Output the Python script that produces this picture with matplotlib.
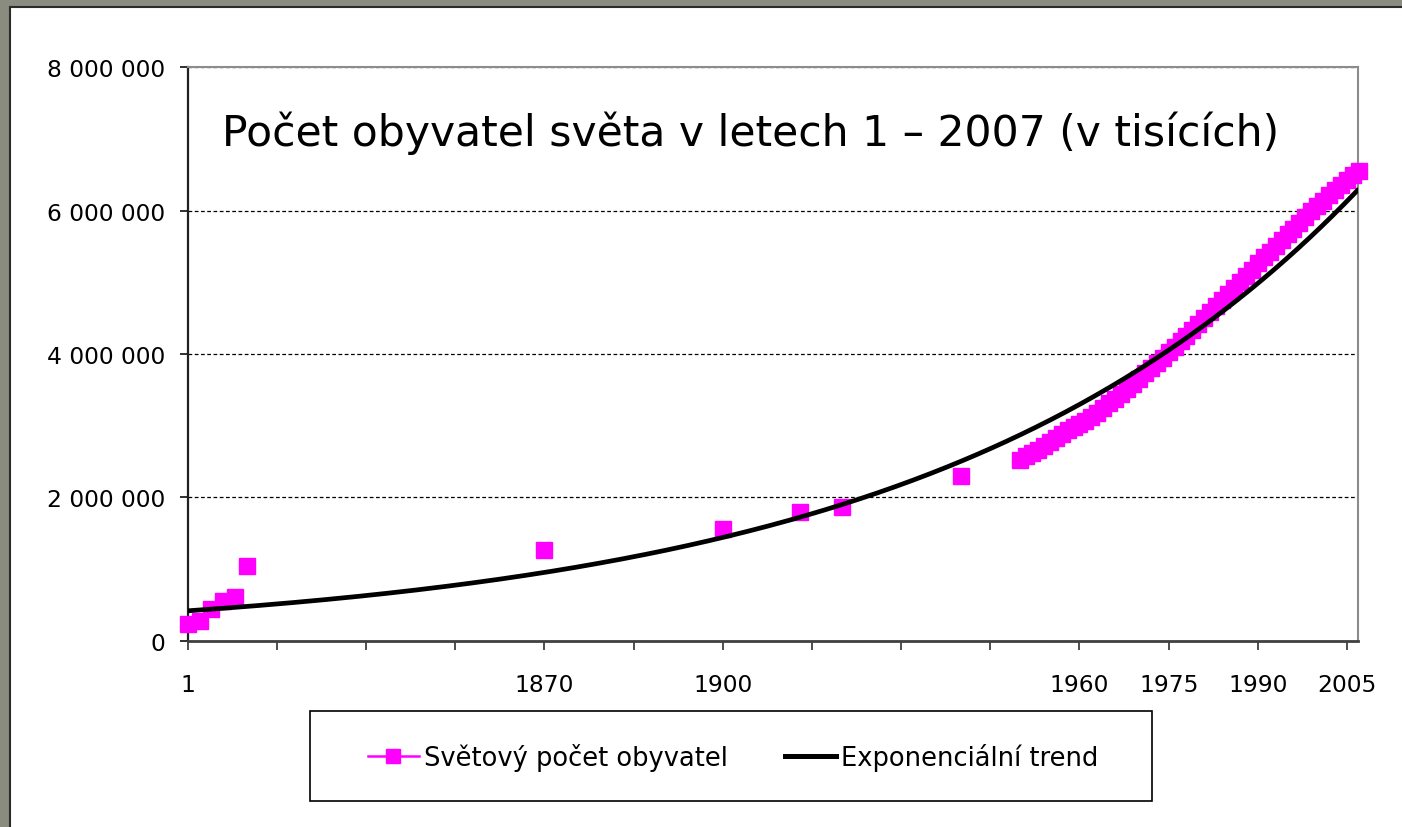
import numpy as np
import matplotlib
matplotlib.use("Agg")
import matplotlib.pyplot as plt
from matplotlib.patches import Rectangle
from matplotlib.lines import Line2D

# --- Data (population in thousands) ---
# category slot on the x axis (the chart is a category axis, one slot per year from 1810 on)
early_years = [1, 1000, 1500, 1600, 1700, 1820, 1870, 1900, 1913, 1920, 1940]
early_slots = [0, 2, 4, 6, 8, 10, 60, 90, 103, 110, 130]
early_pop = [230820, 268273, 437818, 555828, 603410, 1041092,
             1270014, 1563000, 1791020, 1860000, 2298000]

annual_years = list(range(1950, 2008))
annual_pop = [2525000, 2572000, 2619000, 2666000, 2716000, 2769000, 2822000, 2879000,
              2935000, 2984000, 3026000, 3066000, 3115000, 3178000, 3243000, 3310000,
              3377000, 3443000, 3512000, 3584000, 3657000, 3733000, 3807000, 3879000,
              3951000, 4022000, 4100000, 4178000, 4258000, 4338000, 4420000, 4500000,
              4583000, 4665000, 4748000, 4832000, 4917000, 5003000, 5090000, 5178000,
              5265000, 5347000, 5428000, 5509000, 5590000, 5670000, 5750000, 5830000,
              5910000, 5990000, 6065000, 6140000, 6213000, 6285000, 6357000, 6430000,
              6497000, 6560000]
annual_slots = [y - 1810 for y in annual_years]

tick_slots = list(range(0, 196, 15))
tick_labels = {0: "1", 60: "1870", 90: "1900", 150: "1960", 165: "1975", 180: "1990", 195: "2005"}
y_ticks = [0, 2000000, 4000000, 6000000, 8000000]

title = "Počet obyvatel světa v letech 1 – 2007 (v tisících)"
series_name = "Světový počet obyvatel"
trend_name = "Exponenciální trend"

x = np.array(early_slots + annual_slots, dtype=float)
y = np.array(early_pop + annual_pop, dtype=float)

# exponential trend like Excel: fit ln(y) = ln(a) + b*x
b, ln_a = np.polyfit(x, np.log(y), 1)
print("trend a=%.0f b=%.5f" % (np.exp(ln_a), b))
tx = np.linspace(0, 197, 400)
ty = np.exp(ln_a) * np.exp(b * tx)

# --- Figure ---
W, H = 1402, 828
fig = plt.figure(figsize=(W / 100, H / 100), dpi=100, facecolor="#898c7e")
# white slide panel, running off the right and bottom edges
fig.patches.append(Rectangle((10 / W, -0.05), (W + 40) / W, (H - 8) / H + 0.05,
                             transform=fig.transFigure, facecolor="white",
                             edgecolor="#2b2b2b", lw=1.5, zorder=-5))

ax = fig.add_axes([187.7 / W, (H - 641.6) / H, (1358.3 - 187.7) / W, (641.6 - 68.4) / H])
ax.set_zorder(2)
ax.set_facecolor("white")

ax.plot(tx, ty, color="black", lw=3.4, zorder=4, solid_capstyle="butt")
ax.plot(x, y, linestyle="none", marker="s", markersize=11, color="#ff00ff",
        markeredgecolor="#ff00ff", clip_on=False, zorder=3)

ax.set_xlim(0, 196.9)
ax.set_ylim(0, 8000000)

ax.set_yticks(y_ticks)
ax.set_yticklabels(["{:,}".format(v).replace(",", " ") for v in y_ticks])
ax.set_xticks(tick_slots)
ax.set_xticklabels([tick_labels.get(t, "") for t in tick_slots])

ax.yaxis.grid(True, linestyle=(0, (3, 2)), color="black", lw=0.9)
ax.set_axisbelow(True)

for side in ["top", "right"]:
    ax.spines[side].set_color("#8c8c8c")
    ax.spines[side].set_linewidth(1.5)
ax.spines["left"].set_color("#202020")
ax.spines["left"].set_linewidth(1.6)
ax.spines["bottom"].set_color("#404040")
ax.spines["bottom"].set_linewidth(2)

ax.tick_params(axis="y", direction="out", length=6, width=1.3, color="#202020",
               pad=10, labelsize=16.8, labelcolor="black")
ax.tick_params(axis="x", direction="out", length=6.5, width=1.3, color="#404040",
               pad=17, labelsize=16.8, labelcolor="black")
for lab in ax.get_xticklabels() + ax.get_yticklabels():
    lab.set_family("DejaVu Sans")

fig.text(222 / W, (H - 146) / H, title, fontsize=30.6, family="DejaVu Sans",
         ha="left", va="baseline", color="black", zorder=5)

# legend box drawn as in the original (larger than its content)
fig.patches.append(Rectangle((310 / W, (H - 802) / H), 842 / W, 90 / H, transform=fig.transFigure,
                             facecolor="white", edgecolor="black", lw=1.2, zorder=1))
handles = [Line2D([], [], color="#ff00ff", lw=1.8, marker="s", markersize=9.5,
                  markeredgecolor="#ff00ff"),
           Line2D([], [], color="black", lw=3.6)]
leg = fig.legend(handles, [series_name, trend_name], loc="center",
                 bbox_to_anchor=(733 / W, (H - 758) / H), ncol=2, frameon=False,
                 prop={"family": "DejaVu Sans", "size": 18.5}, handlelength=2.0,
                 handletextpad=0.2, columnspacing=2.2)
leg.set_zorder(3)

fig.savefig("out.png", dpi=100, facecolor=fig.get_facecolor())
